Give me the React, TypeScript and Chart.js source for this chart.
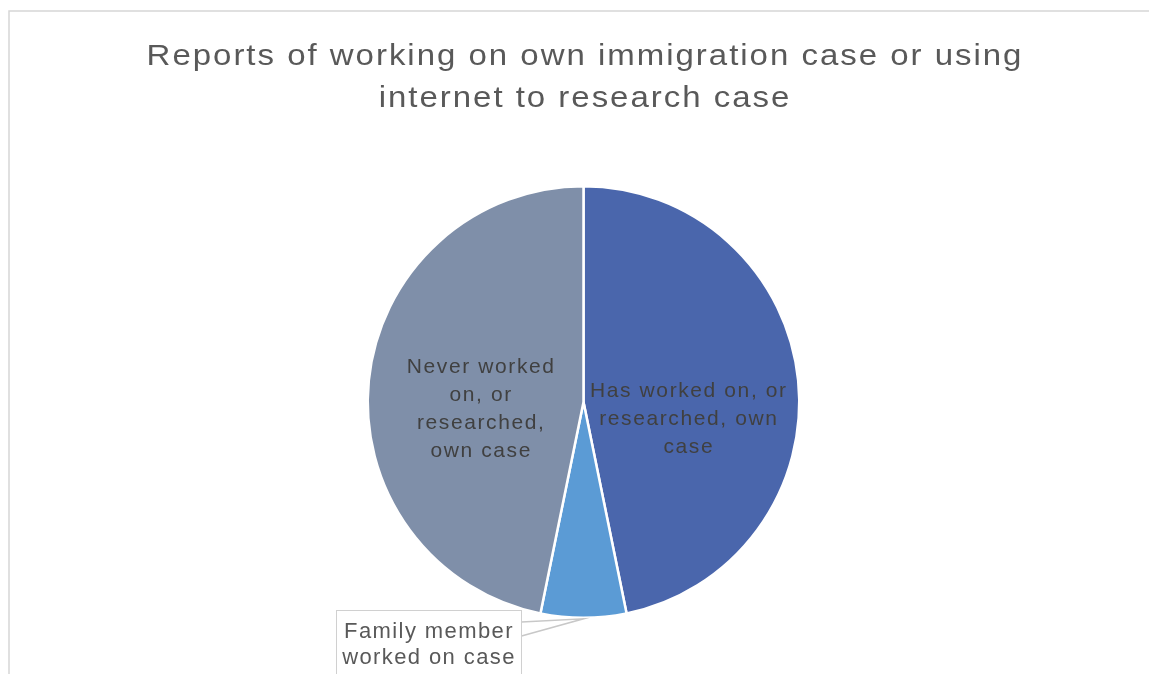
import React, { useEffect, useRef } from "react";
import { Chart, registerables } from "chart.js";

Chart.register(...registerables);

const categories = [
  "Has worked on, or researched, own case",
  "Family member worked on case",
  "Never worked on, or researched, own case",
];
const values = [46.8, 6.4, 46.8];
const sliceColors = ["#4A66AC", "#5B9BD5", "#7F8FA9"];
const labelLines = [
  ["Has worked on, or", "researched, own", "case"],
  ["Family member", "worked on case"],
  ["Never worked", "on, or", "researched,", "own case"],
];
const titleLines = [
  "Reports of working on own immigration case or using",
  "internet to research case",
];

const FONT = '"Liberation Sans", Arial, sans-serif';

const decorPlugin = {
  id: "decor",
  beforeDraw(chart: any) {
    const ctx = chart.ctx;
    ctx.save();
    ctx.fillStyle = "#ffffff";
    ctx.fillRect(0, 0, chart.width, chart.height);
    ctx.strokeStyle = "#d6d6d6";
    ctx.lineWidth = 1.5;
    ctx.beginPath();
    ctx.moveTo(9, chart.height);
    ctx.lineTo(9, 11);
    ctx.lineTo(chart.width, 11);
    ctx.stroke();
    // title (slightly widened glyphs)
    ctx.fillStyle = "#595959";
    ctx.font = `30px ${FONT}`;
    (ctx as any).letterSpacing = "1.8px";
    ctx.textAlign = "center";
    ctx.textBaseline = "middle";
    titleLines.forEach((t, i) => {
      ctx.save();
      ctx.translate(585, 57 + i * 42);
      ctx.scale(1.1, 1);
      ctx.fillText(t, 0, 0);
      ctx.restore();
    });
    ctx.restore();
  },
  afterDatasetsDraw(chart: any) {
    const ctx = chart.ctx;
    const meta = chart.getDatasetMeta(0);
    ctx.save();
    ctx.textAlign = "center";
    ctx.textBaseline = "middle";
    const inside = [
      { i: 0, dx: -2, dy: 28 },
      { i: 2, dx: 5, dy: 18 },
    ];
    inside.forEach(({ i, dx, dy }) => {
      const arc = meta.data[i];
      const p = arc.getCenterPoint();
      const lines = labelLines[i];
      ctx.fillStyle = "#404040";
      ctx.font = `21px ${FONT}`;
      (ctx as any).letterSpacing = "1.6px";
      const lh = 28;
      const y0 = p.y + dy - ((lines.length - 1) * lh) / 2;
      lines.forEach((l, k) => ctx.fillText(l, p.x + dx, y0 + k * lh));
    });
    // callout for the small slice
    const arc = meta.data[1];
    const mid = (arc.startAngle + arc.endAngle) / 2;
    const ax = arc.x + Math.cos(mid) * (arc.outerRadius + 1);
    const ay = arc.y + Math.sin(mid) * (arc.outerRadius + 1);
    const bx = 336.5, by = 610.5, bw = 185, bh = 80;
    ctx.strokeStyle = "#c8c8c8";
    ctx.lineWidth = 1.5;
    ctx.beginPath();
    ctx.moveTo(bx + bw, 622);
    ctx.lineTo(ax, ay);
    ctx.lineTo(bx + bw, 636);
    ctx.stroke();
    ctx.fillStyle = "#ffffff";
    ctx.fillRect(bx, by, bw, bh);
    ctx.strokeStyle = "#d0d0d0";
    ctx.lineWidth = 1;
    ctx.strokeRect(bx, by, bw, bh);
    ctx.fillStyle = "#595959";
    ctx.font = `22px ${FONT}`;
    (ctx as any).letterSpacing = "1.4px";
    labelLines[1].forEach((l, k) => ctx.fillText(l, bx + bw / 2, 632 + k * 26));
    ctx.restore();
  },
};

export default function App() {
  const ref = useRef<HTMLCanvasElement | null>(null);
  useEffect(() => {
    if (!ref.current) return;
    const chart = new Chart(ref.current, {
      type: "pie",
      data: {
        labels: categories,
        datasets: [
          {
            data: values,
            backgroundColor: sliceColors,
            borderColor: "#ffffff",
            borderWidth: 2.5,
          },
        ],
      },
      options: {
        responsive: false,
        animation: false,
        layout: { padding: { top: 185, bottom: 55, left: 200, right: 182 } },
        plugins: {
          legend: { display: false },
          tooltip: { enabled: false },
          title: { display: false },
        },
      },
      plugins: [decorPlugin],
    });
    return () => chart.destroy();
  }, []);
  return (
    <div style={{ position: "fixed", left: 0, top: 0, width: 1149, height: 674, background: "#fff" }}>
      <canvas ref={ref} width={1149} height={674} style={{ display: "block" }} />
    </div>
  );
}
